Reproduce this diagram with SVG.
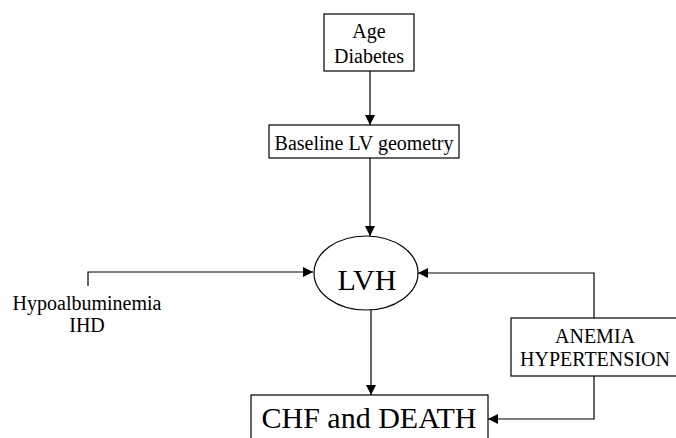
<svg xmlns="http://www.w3.org/2000/svg" width="676" height="438" viewBox="0 0 676 438">
<defs>
<marker id="ah" viewBox="0 0 10 10" refX="10" refY="5" markerWidth="10" markerHeight="10" markerUnits="userSpaceOnUse" orient="auto">
<path d="M0,0 L10,5 L0,10 z" fill="#000"/>
</marker>
</defs>
<style>
.b{fill:#fff;stroke:#000;stroke-width:1.2}
.t{font-family:'Liberation Serif','Times New Roman',Times,serif;fill:#000;text-anchor:middle}
.c{fill:none;stroke:#000;stroke-width:1.2;marker-end:url(#ah)}
</style>
<rect width="676" height="438" fill="#fff"/>
<g id="connectors">
<path class="c" d="M370,71 V125"/>
<path class="c" d="M370,158 V236"/>
<path class="c" d="M88,286 V272 H313"/>
<path class="c" d="M594,318 V273 H418"/>
<path class="c" d="M371,310 V395"/>
<path class="c" d="M594,376 V419 H488"/>
</g>
<g id="age">
<rect class="b" x="324" y="14" width="90" height="57"/>
<text class="t" x="369" y="38" font-size="20">Age</text>
<text class="t" x="369" y="63" font-size="20">Diabetes</text>
</g>
<g id="baseline">
<rect class="b" x="269" y="125" width="190" height="33"/>
<text class="t" x="364" y="150" font-size="20">Baseline LV geometry</text>
</g>
<g id="lvh">
<ellipse class="b" cx="366" cy="273" rx="52" ry="37"/>
<text class="t" x="367" y="290" font-size="30">LVH</text>
</g>
<g id="hypo">
<text class="t" x="87" y="310" font-size="20">Hypoalbuminemia</text>
<text class="t" x="87" y="332" font-size="20">IHD</text>
</g>
<g id="anemia">
<rect class="b" x="511" y="318" width="170" height="58"/>
<text class="t" x="595" y="343" font-size="20">ANEMIA</text>
<text class="t" x="595" y="366" font-size="20">HYPERTENSION</text>
</g>
<g id="chf">
<rect class="b" x="251" y="395" width="237" height="50"/>
<text class="t" x="369" y="428" font-size="30">CHF and DEATH</text>
</g>
</svg>
